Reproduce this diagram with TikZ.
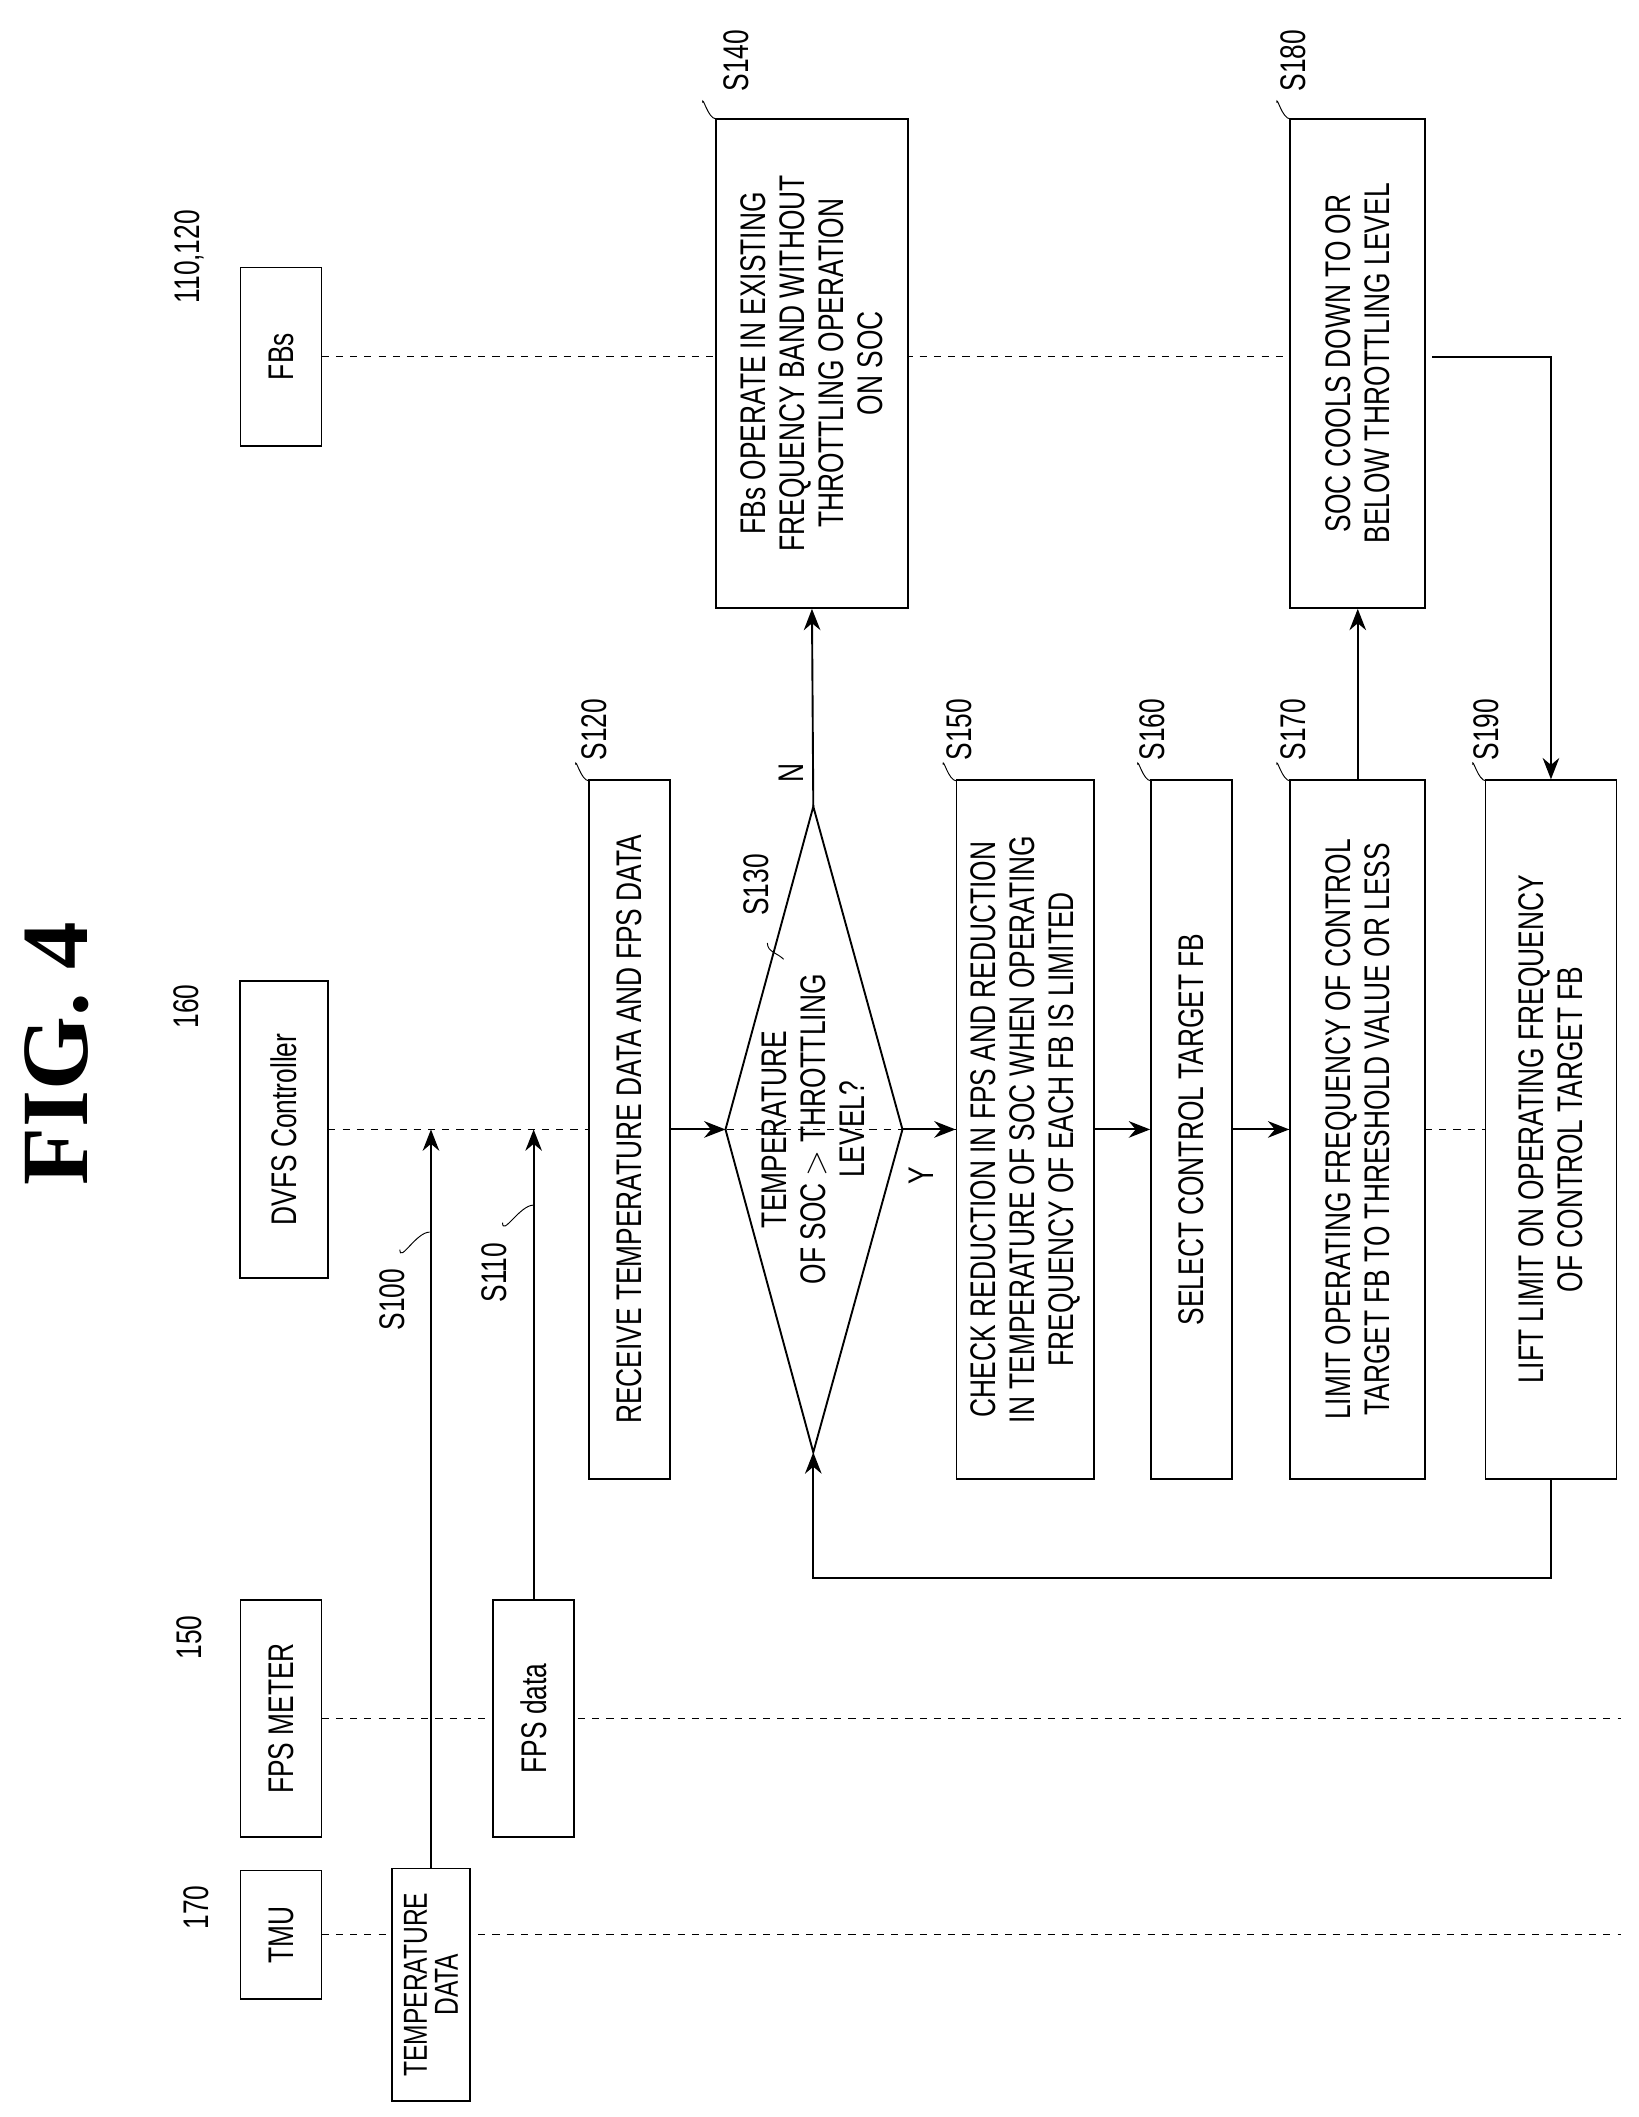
\documentclass[tikz,border=0pt]{standalone}
\usepackage{fontspec}
\setmainfont{Liberation Serif}
\setsansfont{Liberation Sans}[FakeStretch=0.74]
\usetikzlibrary{arrows.meta}

\tikzset{
  box/.style={draw, thick, fill=white, rotate=90, align=center, inner sep=2pt,
    font=\sffamily\fontsize{15}{16.5}\selectfont},
  life/.style={dashed, thin},
  flow/.style={thick, -{Stealth[length=9pt,width=7pt]}},
  tag/.style={rotate=90, font=\sffamily\fontsize{15}{16}\selectfont},
}

\begin{document}
\begin{tikzpicture}[x=0.02cm, y=-0.02cm]
        \useasboundingbox (0,0) rectangle (1213,1567);

        % Title
        \node[rotate=90, font=\bfseries\fontsize{40}{40}\selectfont] (title) at (42,780) {FIG. 4};

        % Lifelines
        \coordinate (tmuend) at (1200,1432);
        \coordinate (fpsend) at (1200,1272);
        \coordinate (dvfsend) at (1100,836);
        \coordinate (fbsend) at (1060,264);
        \draw[life] (238,1432) -- (tmuend);
        \draw[life] (238,1272) -- (fpsend);
        \draw[life] (243,836) -- (dvfsend);
        \draw[life] (238,264) -- (fbsend);

        % Header boxes
        \node[box, minimum width=1.9cm, minimum height=1.2cm] (tmu) at (208,1432) {TMU};
        \node[box, minimum width=3.5cm, minimum height=1.2cm] (fpsm) at (208,1272) {FPS METER};
        \node[box, minimum width=4.4cm, minimum height=1.3cm] (dvfs) at (210,836) {DVFS Controller};
        \node[box, minimum width=2.64cm, minimum height=1.2cm] (fbs) at (208,264) {FBs};
        \node[tag] at (145,1412) {170};
        \node[tag] at (140,1212) {150};
        \node[tag] at (138,745) {160};
        \node[tag] at (140,190) {110,120};

        % Data boxes
        \node[box, minimum width=3.44cm, minimum height=1.16cm, font=\sffamily\fontsize{14}{13}\selectfont] (tdata) at (319,1469) {TEMPERATURE\\DATA};
        \node[box, minimum width=3.5cm, minimum height=1.2cm] (fdata) at (395,1272) {FPS data};
        \draw[flow] (tdata.east) -- (tdata.east |- dvfs.south);
        \draw[flow] (fdata.east) -- (fdata.east |- dvfs.south);
        \node[tag] at (290,962) {S100};
        \draw (296,925) to[out=-90,in=180] (318,912);
        \node[tag] at (366,942) {S110};
        \draw (372,905) to[out=-90,in=180] (395,892);

        % Steps
        \node[box, minimum width=10.34cm, minimum height=1.2cm] (s120) at (466,836) {RECEIVE TEMPERATURE DATA AND FPS DATA};
        \node[box, minimum width=10.34cm, minimum height=2.04cm] (s150) at (759,836) {CHECK REDUCTION IN FPS AND REDUCTION\\IN TEMPERATURE OF SOC WHEN OPERATING\\FREQUENCY OF EACH FB IS LIMITED};
        \node[box, minimum width=10.34cm, minimum height=1.2cm] (s160) at (882,836) {SELECT CONTROL TARGET FB};
        \node[box, minimum width=10.34cm, minimum height=2.0cm] (s170) at (1005,836) {LIMIT OPERATING FREQUENCY OF CONTROL\\TARGET FB TO THRESHOLD VALUE OR LESS};
        \node[box, minimum width=10.34cm, minimum height=1.94cm] (s190) at (1148,836) {LIFT LIMIT ON OPERATING FREQUENCY\\OF CONTROL TARGET FB};
        \node[box, minimum width=7.24cm, minimum height=2.84cm] (s140) at (601,269) {FBs OPERATE IN EXISTING\\FREQUENCY BAND WITHOUT\\THROTTLING OPERATION\\ON SOC};
        \node[box, minimum width=7.24cm, minimum height=2.0cm] (s180) at (1005,269) {SOC COOLS DOWN TO OR\\BELOW THROTTLING LEVEL};

        % Decision
        \coordinate (dw) at (537,836);
        \coordinate (de) at (668,836);
        \coordinate (dn) at (602,597);
        \coordinate (ds) at (602,1075);
        \draw[thick] (dw) -- (dn) -- (de) -- (ds) -- cycle;
        \node[tag, align=center, font=\sffamily\fontsize{15}{16.5}\selectfont] (s130) at (602,836) {TEMPERATURE\\OF SOC $>$ THROTTLING\\LEVEL?};

        % Step labels
        \foreach \nm/\x/\y in {S120/440/540, S130/560/655, S140/545/45, S150/710/540, S160/853/540, S170/957/540, S180/957/45, S190/1100/540}
            \node[tag] at (\x,\y) {\nm};
        \foreach \x/\y in {436/578, 530/88, 708/578, 852/578, 955/578, 955/88, 1100/578}
            \draw (\x,\y) to[out=180,in=90] (\x-10,\y-12);
        \draw (568,698) to[out=-90,in=135] (580,710);

        % Connectors
        \draw[flow] (s120.south) -- (dw);
        \draw[flow] (dn) -- (s140.west);
        \node[tag] (nlab) at (586,572) {N};
        \draw[flow] (de) -- (s150.north);
        \node[tag] (ylab) at (682,870) {Y};
        \draw[flow] (s150.south) -- (s160.north);
        \draw[flow] (s160.south) -- (s170.north);
        \draw[flow] (s170.east) -- (s180.west);
        \draw[flow] (fbsend) -| (s190.east);
        \draw[flow] (s190.west) -- (1148,1168) -| (ds);
\end{tikzpicture}
\end{document}
